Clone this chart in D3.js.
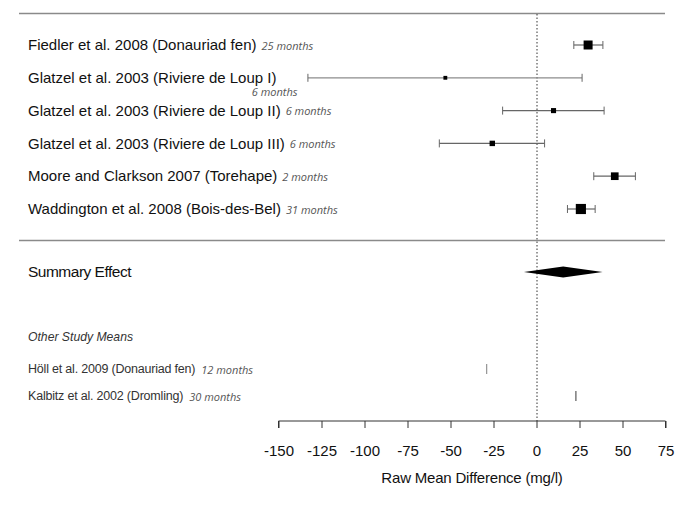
<!DOCTYPE html>
<html lang="en">

<head>
    <meta charset="UTF-8">
    <title>Forest plot</title>
    <style>
        body { margin: 0; background: #fff; }
        text { font-family: "Liberation Sans", Arial, sans-serif; }
        .months { font-family: "Open Sans", sans-serif; font-style: italic; fill: #555; font-size: 11px; }
    </style>
</head>

<body>
    <svg id="svg" width="685" height="513"></svg>

    <script src="https://d3js.org/d3.v7.min.js"></script>
    <script>
        // studies in the meta-analysis
        const studies = [
            'Fiedler et al. 2008 (Donauriad fen)',
            'Glatzel et al. 2003 (Riviere de Loup I)',
            'Glatzel et al. 2003 (Riviere de Loup II)',
            'Glatzel et al. 2003 (Riviere de Loup III)',
            'Moore and Clarkson 2007 (Torehape)',
            'Waddington et al. 2008 (Bois-des-Bel)'
        ]
        const months = ['25 months', '6 months', '6 months', '6 months', '2 months', '31 months']
        const means = [30.0, -53.0, 9.9, -25.7, 45.5, 25.8]
        const lower = [21.7, -132.9, -19.7, -56.5, 33.3, 18.0]
        const upper = [38.6, 26.5, 39.3, 4.7, 57.5, 34.1]
        const weights = [22, 4, 7, 8, 16, 28]

        // summary effect (lower, mean, upper)
        const summary = [-7.3, 15.5, 38.4]

        // other study means
        const otherStudies = ['Höll et al. 2009 (Donauriad fen)', 'Kalbitz et al. 2002 (Dromling)']
        const otherMonths = ['12 months', '30 months']
        const otherMeans = [-29.0, 22.9]

        const ticks = [-150, -125, -100, -75, -50, -25, 0, 25, 50, 75]

        const svg = d3.select('#svg')

        const xScale = d3.scaleLinear()
            .domain([-150, 75])
            .range([278.5, 665.5])
        const yScale = d3.scalePoint()
            .domain(studies)
            .range([45, 209])
        const sizeScale = d3.scaleSqrt()
            .domain([0, 30])
            .range([0, 10.5])

        const left = 19, right = 665
        const summaryY = 272
        const otherY = d3.scalePoint().domain(otherStudies).range([369, 396])
        const axisY = 421

        // horizontal rules
        svg.selectAll('line.rule')
            .data([13.5, 240.5])
            .enter()
            .append('line')
            .attr('x1', left).attr('x2', right)
            .attr('y1', d => d).attr('y2', d => d)
            .attr('stroke', '#8a8a8a')
            .attr('stroke-width', 1.5)

        // zero reference line
        svg.append('line')
            .attr('x1', xScale(0) + 0.5).attr('x2', xScale(0) + 0.5)
            .attr('y1', 14).attr('y2', axisY)
            .attr('stroke', '#333')
            .attr('stroke-dasharray', '1.5,2')

        // study labels
        const labels = svg.selectAll('text.study')
            .data(studies)
            .enter()
            .append('text')
            .attr('class', 'study')
            .attr('x', 28)
            .attr('y', d => yScale(d))
            .attr('dy', '0.35em')
            .attr('font-size', 15)
            .attr('fill', '#111')
            .text(d => d)

        labels.each(function (d, i) {
            const w = this.getComputedTextLength()
            const t = svg.append('text')
                .attr('class', 'months')
                .text(months[i])
            if (i === 1) {
                // this one sits below its label
                t.attr('x', 28 + w + 21).attr('y', yScale(d) + 14).attr('dy', '0.35em')
                    .attr('text-anchor', 'end')
            } else {
                t.attr('x', 28 + w + 5).attr('y', yScale(d) + 1).attr('dy', '0.35em')
            }
        })

        // confidence intervals
        const rows = svg.selectAll('g.row')
            .data(studies)
            .enter()
            .append('g')
            .attr('class', 'row')
            .attr('transform', d => `translate(0,${yScale(d)})`)

        rows.append('line')
            .attr('x1', (d, i) => xScale(lower[i]))
            .attr('x2', (d, i) => xScale(upper[i]))
            .attr('stroke', (d, i) => i === 1 ? '#8c8c8c' : '#666')
            .attr('stroke-width', 1.2)

        rows.selectAll('line.cap')
            .data((d, i) => [lower[i], upper[i]].map(v => ({ v, i })))
            .enter()
            .append('line')
            .attr('class', 'cap')
            .attr('x1', d => xScale(d.v))
            .attr('x2', d => xScale(d.v))
            .attr('y1', -4).attr('y2', 4)
            .attr('stroke', '#666')

        rows.append('rect')
            .attr('x', (d, i) => xScale(means[i]) - sizeScale(weights[i]) / 2)
            .attr('y', (d, i) => -sizeScale(weights[i]) / 2)
            .attr('width', (d, i) => sizeScale(weights[i]))
            .attr('height', (d, i) => sizeScale(weights[i]))
            .attr('fill', '#000')

        // summary effect
        svg.append('text')
            .attr('x', 28)
            .attr('y', summaryY)
            .attr('dy', '0.35em')
            .attr('font-size', 15.5)
            .attr('letter-spacing', -0.5)
            .attr('fill', '#111')
            .text('Summary Effect')

        svg.append('path')
            .attr('d', d3.line()([
                [xScale(summary[0]), summaryY],
                [xScale(summary[1]), summaryY - 5.5],
                [xScale(summary[2]), summaryY],
                [xScale(summary[1]), summaryY + 5.5]
            ]) + 'Z')
            .attr('fill', '#000')

        // other study means
        svg.append('text')
            .attr('x', 28)
            .attr('y', 337)
            .attr('dy', '0.35em')
            .attr('font-size', 12.2)
            .attr('font-style', 'italic')
            .attr('fill', '#333')
            .text('Other Study Means')

        const others = svg.selectAll('text.other')
            .data(otherStudies)
            .enter()
            .append('text')
            .attr('class', 'other')
            .attr('x', 28)
            .attr('y', d => otherY(d))
            .attr('dy', '0.35em')
            .attr('font-size', 12.5)
            .attr('letter-spacing', -0.2)
            .attr('fill', '#333')
            .text(d => d)

        others.each(function (d, i) {
            const w = this.getComputedTextLength()
            svg.append('text')
                .attr('class', 'months')
                .attr('x', 28 + w + 6)
                .attr('y', otherY(d) + 1)
                .attr('dy', '0.35em')
                .text(otherMonths[i])
        })

        svg.selectAll('line.othermean')
            .data(otherStudies)
            .enter()
            .append('line')
            .attr('class', 'othermean')
            .attr('x1', (d, i) => xScale(otherMeans[i]))
            .attr('x2', (d, i) => xScale(otherMeans[i]))
            .attr('y1', d => otherY(d) - 5)
            .attr('y2', d => otherY(d) + 5)
            .attr('stroke', (d, i) => i === 0 ? '#999' : '#666')
            .attr('stroke-width', 1.3)

        // x axis
        const axis = svg.append('g')
            .attr('transform', `translate(0,${axisY})`)
            .call(d3.axisBottom(xScale).tickValues(ticks).tickSize(7).tickPadding(17).tickFormat(d => String(d)))
        axis.select('.domain').attr('stroke', '#333').attr('d', `M${xScale(-150)},7V0H${xScale(75)}V7`)
        axis.selectAll('.tick line').attr('stroke', '#333')
        axis.selectAll('.tick text')
            .attr('font-size', 15)
            .attr('fill', '#111')
            .style('font-family', '"Liberation Sans", Arial, sans-serif')

        svg.append('text')
            .attr('x', xScale(-37.5))
            .attr('y', 478)
            .attr('dy', '0.35em')
            .attr('text-anchor', 'middle')
            .attr('font-size', 15)
            .attr('letter-spacing', -0.2)
            .attr('fill', '#111')
            .text('Raw Mean Difference (mg/l)')
    </script>
</body>

</html>
